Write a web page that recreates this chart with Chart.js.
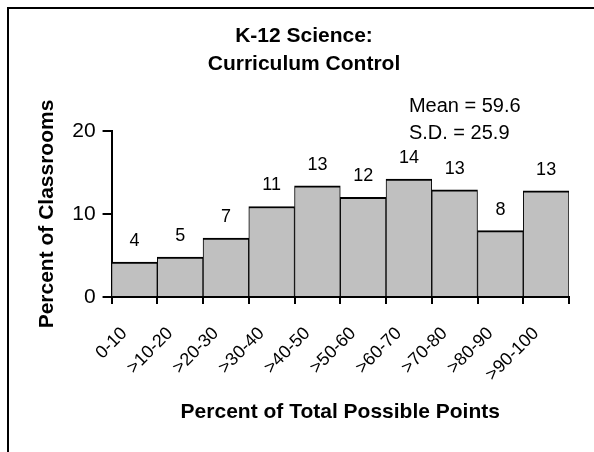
<!DOCTYPE html>
<html>
<head>
<meta charset="utf-8">
<script src="https://cdn.jsdelivr.net/npm/chart.js@4"></script>
<style>
  html, body { margin: 0; padding: 0; background: #fff; overflow: hidden; }
  #wrap { position: relative; width: 594px; height: 452px; }
</style>
</head>
<body>
<div id="wrap"><canvas id="histChart"></canvas></div>
<script>
// Chart data
const categories = ['0-10', '>10-20', '>20-30', '>30-40', '>40-50', '>50-60', '>60-70', '>70-80', '>80-90', '>90-100'];
const percentClassrooms = [4.2, 4.8, 7.1, 10.9, 13.4, 12.0, 14.2, 12.9, 8.0, 12.8];
const barLabels = ['4', '5', '7', '11', '13', '12', '14', '13', '8', '13'];
const titleLines = ['K-12 Science:', 'Curriculum Control'];
const statLines = ['Mean = 59.6', 'S.D. = 25.9'];

const FONT = '"Liberation Sans", Arial, sans-serif';

// Frame, title, stats and bar labels
const extras = {
    id: 'extras',
    beforeDraw(chart) {
        const c = chart.ctx;
        c.save();
        c.strokeStyle = '#000';
        c.lineWidth = 2;
        c.beginPath();
        c.moveTo(8, chart.height);
        c.lineTo(8, 8);
        c.lineTo(chart.width, 8);
        c.stroke();
        c.restore();
    },
    afterDraw(chart) {
        const c = chart.ctx;
        const area = chart.chartArea;
        c.save();
        c.fillStyle = '#000';
        c.textAlign = 'center';
        c.textBaseline = 'middle';
        c.font = 'bold 21px ' + FONT;
        titleLines.forEach((t, i) => c.fillText(t, 304, 36 + i * 28));

        c.textAlign = 'left';
        c.font = '20px ' + FONT;
        const sx = chart.scales.x.getPixelForValue(6);
        statLines.forEach((t, i) => c.fillText(t, sx, area.top - 25 + i * 27));

        c.textAlign = 'center';
        c.font = '18px ' + FONT;
        chart.getDatasetMeta(0).data.forEach((bar, i) => {
            c.fillText(barLabels[i], bar.x, bar.y - 21);
        });
        c.restore();
    }
};

new Chart(document.getElementById('histChart'), {
    type: 'bar',
    data: {
        labels: categories,
        datasets: [{
            data: percentClassrooms,
            backgroundColor: '#c0c0c0',
            borderColor: '#000',
            borderWidth: { top: 2, left: 1, right: 1, bottom: 0 },
            borderSkipped: false,
            barPercentage: 1,
            categoryPercentage: 1
        }]
    },
    options: {
        responsive: true,
        maintainAspectRatio: false,
        animation: false,
        layout: { padding: { top: 131, left: 20, right: 25, bottom: 0 } },
        plugins: {
            legend: { display: false },
            tooltip: { enabled: false }
        },
        scales: {
            x: {
                afterFit: (scale) => { scale.height = 155; },
                grid: { drawOnChartArea: false, color: '#000', lineWidth: 2, tickLength: 7 },
                border: { color: '#000', width: 2 },
                ticks: {
                    color: '#000',
                    font: { family: FONT, size: 18 },
                    minRotation: 45,
                    maxRotation: 45,
                    padding: 19,
                    labelOffset: -10
                },
                title: {
                    display: true,
                    text: 'Percent of Total Possible Points',
                    color: '#000',
                    font: { family: FONT, size: 21, weight: 'bold' },
                    padding: { top: 0, bottom: 27 }
                }
            },
            y: {
                min: 0,
                max: 20,
                grid: { drawOnChartArea: false, color: '#000', lineWidth: 2, tickLength: 9 },
                border: { color: '#000', width: 2 },
                ticks: {
                    stepSize: 10,
                    color: '#000',
                    font: { family: FONT, size: 21 },
                    padding: 7
                },
                title: {
                    display: true,
                    text: 'Percent of Classrooms',
                    color: '#000',
                    font: { family: FONT, size: 21, weight: 'bold' },
                    padding: { top: 15, bottom: 5 }
                }
            }
        }
    },
    plugins: [extras]
});
</script>
</body>
</html>
